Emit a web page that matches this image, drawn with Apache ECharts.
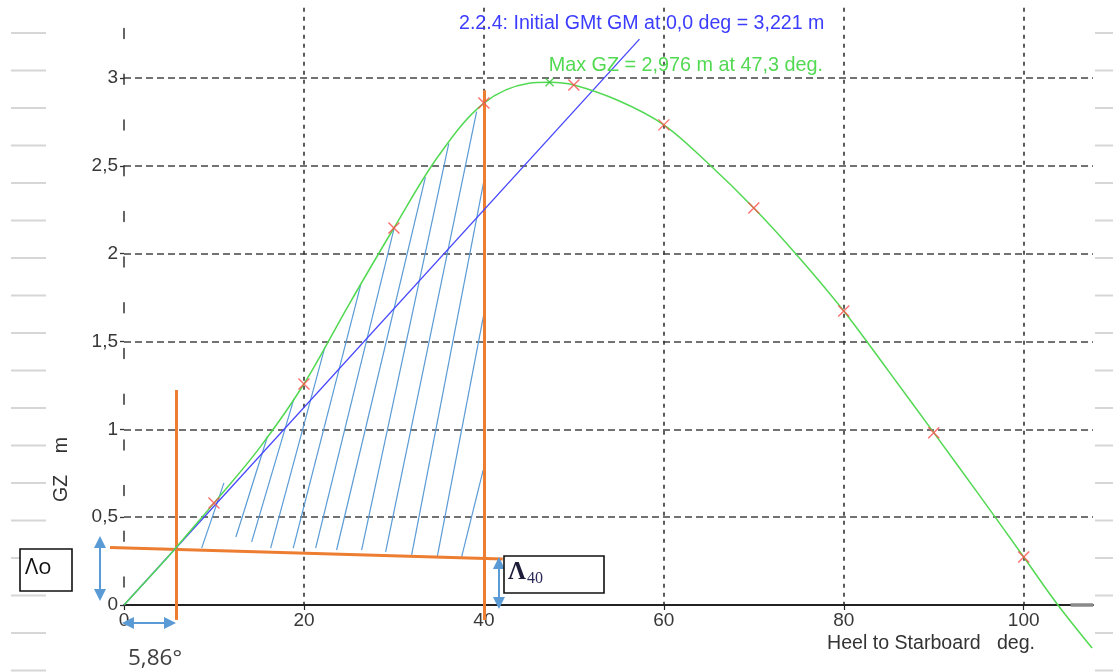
<!DOCTYPE html>
<html>
<head>
<meta charset="utf-8">
<title>GZ curve</title>
<script src="https://cdn.jsdelivr.net/npm/echarts@6/dist/echarts.min.js"></script>
<style>
  html, body { margin: 0; padding: 0; background: #ffffff; }
  #chart { width: 1113px; height: 672px; }
</style>
</head>
<body>
<div id="chart"></div>
<script>
// Righting lever (GZ) curve, heel to starboard
const heelDeg  = [0, 2.5, 5, 7.5, 10, 15, 20, 25, 30, 35, 40, 45, 47.3, 50, 55, 60, 65, 70, 75, 80, 85, 90, 95, 100, 103.8, 107.6];
const gzMetres = [0, 0.14, 0.28, 0.43, 0.58, 0.89, 1.258, 1.71, 2.146, 2.56, 2.857, 2.97, 2.976, 2.96, 2.87, 2.733, 2.51, 2.26, 1.98, 1.674, 1.33, 0.981, 0.63, 0.273, 0, -0.245];

// computed stations (red crosses)
const stationDeg = [10, 20, 30, 40, 50, 60, 70, 80, 90, 100];
const stationGz  = [0.58, 1.258, 2.146, 2.857, 2.96, 2.733, 2.26, 1.674, 0.981, 0.273];

// maximum GZ and initial GM
const maxGzAngle = 47.3;
const maxGz = 2.976;
const gmInitial = 3.221;

// axis ticks
const xTicks = [0, 20, 40, 60, 80, 100];
const yTicks = [0, 0.5, 1, 1.5, 2, 2.5, 3];

// area-ratio construction: lambda-0 line and the two limit angles
const limitAngleLow = 5.86;
const limitAngleHigh = 40;
const lambdaLine = [[-1.56, 0.327], [42.1, 0.262]];
const limitLowSpan = [1.224, -0.085];
const limitHighSpan = [2.93, -0.085];

// hatching of the area under the curve between the limit angles: [deg0, gz0, deg1, gz1]
const hatchSegments = [
  [8.63, 0.324, 11.11, 0.695],
  [12.44, 0.387, 15.96, 0.962],
  [14.19, 0.359, 18.89, 1.175],
  [16.3, 0.324, 22.33, 1.469],
  [18.81, 0.324, 26.31, 1.822],
  [21.3, 0.324, 30.06, 2.152],
  [23.63, 0.313, 33.5, 2.436],
  [26.41, 0.313, 36.1, 2.627],
  [29.08, 0.302, 39.19, 2.809],
  [31.97, 0.285, 40.0, 2.414],
  [34.81, 0.273, 40.0, 1.657],
  [37.52, 0.273, 39.92, 0.768]
];

// dimension arrows: [deg0, gz0, deg1, gz1]
const dimensionArrows = [
  [-2.67, 0.359, -2.67, 0.057],
  [41.67, 0.239, 41.67, 0.011],
  [0.44, -0.102, 5.11, -0.102]
];

const GREEN = '#52d952';
const BLUE = '#4646ff';
const ORANGE = '#ed7d31';
const HATCH = '#5b9bd5';
const FONT = '"Liberation Sans", Arial, sans-serif';

const curveData = heelDeg.map((d, i) => [d, gzMetres[i]]);
const stationData = stationDeg.map((d, i) => [d, stationGz[i]]);
const radianDeg = 180 / Math.PI;

const crossPath = 'path://M0,0L10,10M10,0L0,10';

// light ruled margin lines at the page edges
const ruleGraphics = [];
for (let i = 0; i < 18; i++) {
  const y = 33 + i * 37.5;
  ruleGraphics.push({ type: 'line', silent: true, shape: { x1: 11, y1: y, x2: 46, y2: y },
    style: { stroke: '#d6d6d6', lineWidth: 2 }, z: 0 });
  ruleGraphics.push({ type: 'line', silent: true, shape: { x1: 1095, y1: y, x2: 1113, y2: y },
    style: { stroke: '#d6d6d6', lineWidth: 2 }, z: 0 });
}

const chart = echarts.init(document.getElementById('chart'), null, { renderer: 'canvas' });

const option = {
  animation: false,
  backgroundColor: '#ffffff',
  grid: { left: 124, top: 7.7, width: 969, height: 597.3, containLabel: false },
  xAxis: {
    type: 'value',
    min: 0,
    max: 107.7,
    interval: 20,
    axisLine: { show: true, onZero: false, lineStyle: { color: '#222', width: 1.8 } },
    axisTick: { show: true, length: 5, customValues: xTicks, lineStyle: { color: '#222', width: 1.2 } },
    axisLabel: {
      color: '#383838', fontSize: 19, fontFamily: FONT, margin: 6,
      customValues: xTicks,
      formatter: v => (xTicks.indexOf(v) >= 0 ? String(v) : '')
    },
    splitLine: {
      show: true, showMinLine: false, showMaxLine: true,
      lineStyle: { color: '#333', width: 1.6, type: [4, 5] }
    }
  },
  yAxis: {
    type: 'value',
    min: 0,
    max: 3.4,
    interval: 0.5,
    axisLine: { show: true, lineStyle: { color: '#333', width: 1.5, type: [10, 35.7], dashOffset: 27.7 } },
    axisTick: { show: true, length: 4, customValues: yTicks, lineStyle: { color: '#333', width: 1.3 } },
    axisLabel: {
      color: '#383838', fontSize: 19, fontFamily: FONT, margin: 6,
      customValues: yTicks,
      formatter: v => (yTicks.indexOf(v) >= 0 ? String(v).replace('.', ',') : '')
    },
    splitLine: {
      show: true, showMinLine: false, showMaxLine: true,
      lineStyle: { color: '#444', width: 1.6, type: [7, 4] }
    }
  },
  series: [
    {
      name: 'hatch',
      type: 'lines',
      coordinateSystem: 'cartesian2d',
      clip: false,
      z: 2,
      lineStyle: { color: HATCH, width: 1.2, opacity: 1, curveness: 0 },
      data: hatchSegments.map(s => ({ coords: [[s[0], s[1]], [s[2], s[3]]] }))
    },
    {
      name: 'limits',
      type: 'lines',
      coordinateSystem: 'cartesian2d',
      clip: false,
      z: 3,
      lineStyle: { color: ORANGE, width: 3, opacity: 1, curveness: 0 },
      data: [
        { coords: lambdaLine },
        { coords: [[limitAngleLow, limitLowSpan[0]], [limitAngleLow, limitLowSpan[1]]] },
        { coords: [[limitAngleHigh, limitHighSpan[0]], [limitAngleHigh, limitHighSpan[1]]] }
      ]
    },
    {
      name: 'dimensions',
      type: 'lines',
      coordinateSystem: 'cartesian2d',
      clip: false,
      z: 3,
      symbol: ['triangle', 'triangle'],
      symbolSize: 12,
      lineStyle: { color: HATCH, width: 2, opacity: 1, curveness: 0 },
      data: dimensionArrows.map(s => ({ coords: [[s[0], s[1]], [s[2], s[3]]] }))
    },
    {
      name: 'axis end',
      type: 'line',
      clip: false,
      z: 3,
      showSymbol: false,
      silent: true,
      lineStyle: { color: '#8a8a8a', width: 3.5 },
      data: [[105.2, 0], [107.7, 0]]
    },
    {
      name: 'GM',
      type: 'line',
      clip: false,
      z: 5,
      showSymbol: false,
      lineStyle: { color: BLUE, width: 1.3 },
      data: [[0, 0], [radianDeg, gmInitial]]
    },
    {
      name: 'GZ',
      type: 'line',
      clip: false,
      z: 6,
      smooth: 0.35,
      showSymbol: false,
      lineStyle: { color: GREEN, width: 1.5 },
      data: curveData
    },
    {
      name: 'stations',
      type: 'scatter',
      z: 7,
      symbol: crossPath,
      symbolSize: 11,
      itemStyle: { color: 'rgba(0,0,0,0)', borderColor: '#ff4a4a', borderWidth: 1.4 },
      data: stationData
    },
    {
      name: 'max',
      type: 'scatter',
      z: 7,
      symbol: crossPath,
      symbolSize: 8,
      itemStyle: { color: 'rgba(0,0,0,0)', borderColor: '#33c433', borderWidth: 1.4 },
      data: [[maxGzAngle, maxGz]]
    }
  ],
  graphic: ruleGraphics.concat([
    {
      type: 'text', left: 459, top: 14, z: 10,
      style: {
        text: '2.2.4: Initial GMt GM at 0,0 deg = ' + gmInitial.toFixed(3).replace('.', ',') + ' m',
        fill: '#3c3cff', font: '19.6px ' + FONT
      }
    },
    {
      type: 'text', right: 1113 - 823, top: 56, z: 10,
      style: {
        text: 'Max GZ = ' + maxGz.toFixed(3).replace('.', ',') + ' m at ' + maxGzAngle.toFixed(1).replace('.', ',') + ' deg.',
        fill: '#52d952', font: '19.8px ' + FONT
      }
    },
    {
      type: 'text', left: 827, top: 634, z: 10,
      style: { text: 'Heel to Starboard   deg.', fill: '#333', font: '19.6px ' + FONT }
    },
    {
      type: 'text', x: 62, y: 502, rotation: Math.PI / 2, z: 10,
      style: { text: 'GZ    m', fill: '#333', font: '19.5px ' + FONT, align: 'left', verticalAlign: 'middle' },
      originX: 0, originY: 0
    },
    {
      type: 'rect', z: 10,
      shape: { x: 20, y: 549, width: 52, height: 42 },
      style: { fill: '#fff', stroke: '#111', lineWidth: 1.6 }
    },
    {
      type: 'text', left: 25, top: 557, z: 11,
      style: { text: 'Λo', fill: '#111', font: '22px "Open Sans", sans-serif' }
    },
    {
      type: 'rect', z: 10,
      shape: { x: 504, y: 556, width: 100, height: 37 },
      style: { fill: '#fff', stroke: '#111', lineWidth: 1.6 }
    },
    {
      type: 'text', left: 508, top: 560, z: 11,
      style: {
        text: '{a|Λ}{b|40}',
        rich: {
          a: { font: 'bold 25px "Liberation Serif", serif', fill: '#1d1d3a', verticalAlign: 'bottom' },
          b: { font: '16px "Liberation Serif", serif', fill: '#28285a', verticalAlign: 'bottom', padding: [0, 0, -2, 1] }
        }
      }
    },
    {
      type: 'text', left: 128, top: 647, z: 10,
      style: { text: limitAngleLow.toFixed(2).replace('.', ',') + '°', fill: '#404040', font: '22.5px "Open Sans", sans-serif' }
    }
  ])
};

chart.setOption(option);
</script>
</body>
</html>
